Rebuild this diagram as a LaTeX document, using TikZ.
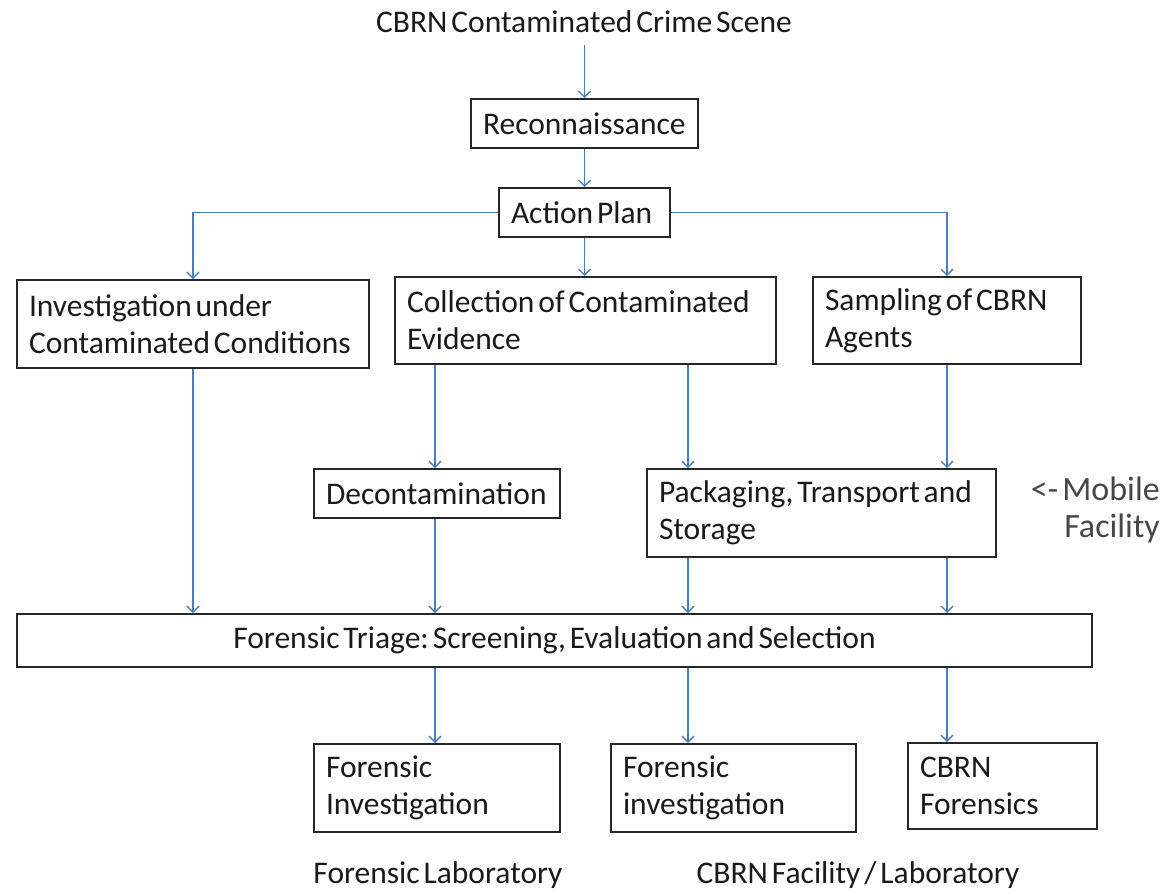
\documentclass[tikz,border=0pt]{standalone}
\usepackage{fontspec}
\setmainfont[WordSpace=0.55]{Carlito}
\usetikzlibrary{arrows.meta}
\definecolor{arrowblue}{HTML}{4A7EBB}
\definecolor{txt}{HTML}{1A1A1A}
\frenchspacing
\begin{document}
\begin{tikzpicture}[x=1pt,y=-1pt,
  every node/.style={font=\fontsize{31.5}{37}\selectfont\frenchspacing, text=txt},
  bx/.style={draw=black!85, line width=2pt, inner xsep=12pt, inner ysep=0pt, anchor=north west, align=flush left},
  arr/.style={draw=arrowblue, line width=1.6pt, -{Straight Barb[length=6pt,width=12pt,line width=1.4pt]}},
  plain/.style={inner sep=0pt}]
\useasboundingbox (0,0) rectangle (1162,892);
% column coordinates
\coordinate (c1) at (193,0);
\coordinate (c2) at (435,0);
\coordinate (c3) at (688,0);
\coordinate (c4) at (947,0);

\node[plain] (scene) at (584,22) {CBRN Contaminated Crime Scene};
\node[bx, minimum width=227pt, minimum height=49pt, text width=203pt] (recon) at (470,98) {\mbox{Reconnaissance}};
\node[bx, minimum width=171pt, minimum height=49pt, text width=147pt] (plan) at (498,187) {\mbox{Action Plan}};
\node[bx, minimum width=352pt, minimum height=88pt, text width=328pt] (inv) at (16,279) {\mbox{Investigation under}\\\mbox{Contaminated Conditions}};
\node[bx, minimum width=381pt, minimum height=87pt, text width=357pt] (coll) at (394,276) {\mbox{Collection of Contaminated}\\\mbox{Evidence}};
\node[bx, minimum width=268pt, minimum height=87pt, text width=244pt] (samp) at (812,276) {\mbox{Sampling of CBRN}\\\mbox{Agents}};
\node[bx, minimum width=246pt, minimum height=49pt, text width=222pt] (decon) at (313,468) {\mbox{Decontamination}};
\node[bx, minimum width=349pt, minimum height=88pt, text width=325pt] (pack) at (646,468) {\mbox{Packaging, Transport and}\\\mbox{Storage}};
\node[bx, minimum width=1075pt, minimum height=53pt, text width=1051pt, align=flush center] (triage) at (16,613) {\mbox{Forensic Triage: Screening, Evaluation and Selection}};
\node[bx, minimum width=246pt, minimum height=88pt, text width=222pt] (fi1) at (313,743) {\mbox{Forensic}\\\mbox{Investigation}};
\node[bx, minimum width=245pt, minimum height=88pt, text width=221pt] (fi2) at (610,743) {\mbox{Forensic}\\\mbox{investigation}};
\node[bx, minimum width=189pt, minimum height=86pt, text width=165pt] (cf) at (907,742) {\mbox{CBRN}\\\mbox{Forensics}};

\node[plain, anchor=east, align=right, text=black!72, font=\fontsize{34}{37}\selectfont] (mob) at (1160,510) {<- Mobile\\Facility};
\node[plain] (flab) at (438,875) {Forensic Laboratory};
\node[plain] (clab) at (858,875) {CBRN Facility / Laboratory};

\draw[arr] (recon.north |- 0,45) -- (recon.north);
\draw[arr] (recon.south) -- (plan.north -| recon.south);
\draw[arr] (plan.west) -| (inv.north -| c1);
\draw[arr] (plan.south) -- (plan.south |- coll.north);
\draw[arr] (plan.east) -| (samp.north -| c4);
\draw[arr] (inv.south -| c1) -- (triage.north -| c1);
\draw[arr] (coll.south -| c2) -- (decon.north -| c2);
\draw[arr] (coll.south -| c3) -- (pack.north -| c3);
\draw[arr] (samp.south -| c4) -- (pack.north -| c4);
\draw[arr] (decon.south -| c2) -- (triage.north -| c2);
\draw[arr] (pack.south -| c3) -- (triage.north -| c3);
\draw[arr] (pack.south -| c4) -- (triage.north -| c4);
\draw[arr] (triage.south -| c2) -- (fi1.north -| c2);
\draw[arr] (triage.south -| c3) -- (fi2.north -| c3);
\draw[arr] (triage.south -| c4) -- (cf.north -| c4);
\end{tikzpicture}
\end{document}
